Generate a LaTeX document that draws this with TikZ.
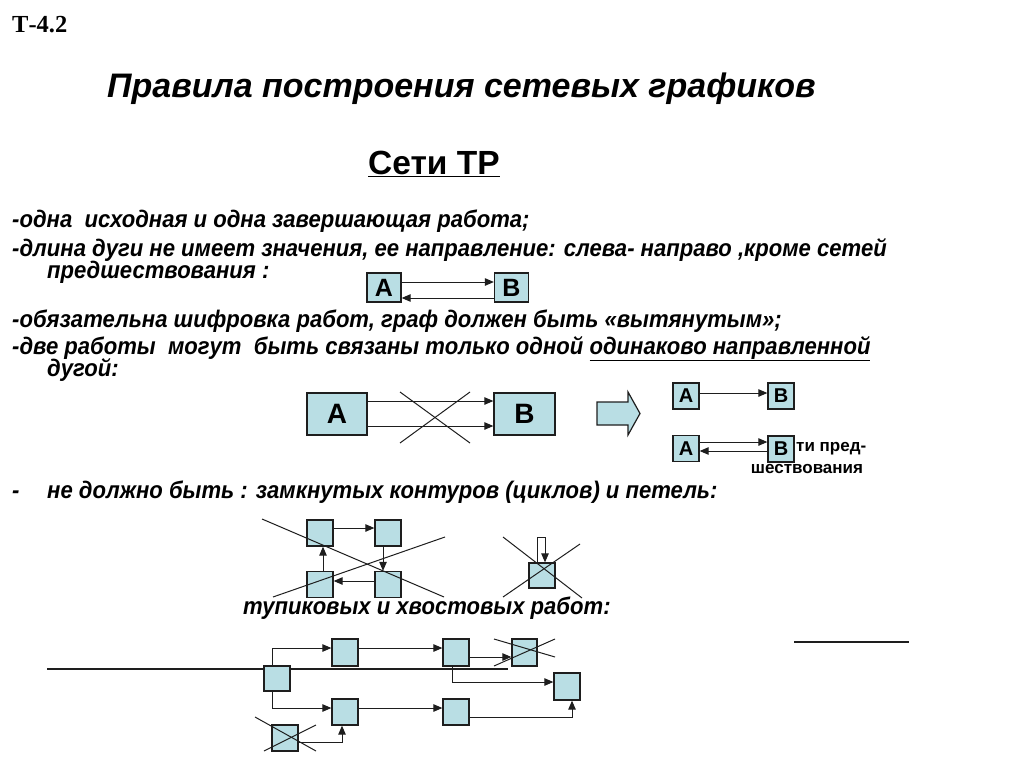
\documentclass[tikz,border=0pt]{standalone}
\usepackage{fontspec}
\setmainfont{Liberation Sans}
\newfontfamily\narrowf[FakeStretch=0.92]{Liberation Sans}
\newfontfamily\timesf{Liberation Serif}
\usetikzlibrary{arrows.meta}
\definecolor{boxfill}{RGB}{185,222,228}
\definecolor{edge}{RGB}{30,30,30}
\tikzset{
  job/.style={draw=edge, line width=1.3pt, fill=boxfill, inner sep=0pt, font=\bfseries\fontsize{25}{25}\selectfont},
  conn/.style={-{Triangle[length=9pt,width=7.5pt]}, line width=1pt, draw=edge},
  plain/.style={line width=1pt, draw=edge},
  thick line/.style={line width=2pt, draw=edge},
  body/.style={anchor=base west, inner sep=0pt, font=\narrowf\bfseries\itshape\fontsize{24}{26}\selectfont},
}
\begin{document}
\begin{tikzpicture}[x=1pt,y=-1pt]
\useasboundingbox (0,0) rectangle (1024,768);
% headings
\node[anchor=base west, inner sep=0pt, font=\timesf\bfseries\fontsize{24.5}{26}\selectfont] (code) at (12,33) {Т-4.2};
\node[anchor=base west, inner sep=0pt, font=\bfseries\itshape\fontsize{34}{38}\selectfont] (title) at (107,97) {Правила построения сетевых графиков};
\node[anchor=base west, inner sep=0pt, font=\bfseries\fontsize{33.5}{36}\selectfont] (sub) at (368,174) {\underline{Сети ТР}};
% body text
\node[body] (t1) at (12,227) {-одна\ \ исходная и одна завершающая работа;};
\node[body] (t2) at (12,256) {-длина дуги не имеет значения, ее направление: слева- направо ,кроме сетей};
\node[body] (t3) at (47,278) {предшествования :};
\node[body] (t4) at (12,327) {-обязательна шифровка работ, граф должен быть «вытянутым»;};
\node[body] (t5) at (12,354) {-две работы\ \ могут\ \ быть связаны только одной \underline{одинаково направленной}};
\node[body] (t6) at (47,376) {дугой:};
\node[body] (t7) at (12,498) {-};
\node[body] (t8) at (47,498) {не должно быть : замкнутых контуров (циклов) и петель:};
\node[body] (t9) at (243,614) {тупиковых и хвостовых работ:};

% diagram 1
\node[job, minimum width=34pt, minimum height=29pt] (a1) at (384,287.5) {A};
\node[job, minimum width=34pt, minimum height=29pt] (b1) at (511.5,287.5) {B};
\draw[conn] (a1.east |- 0,282) -- (b1.west |- 0,282);
\draw[conn] (b1.west |- 0,298) -- (a1.east |- 0,298);

% diagram 2
\node[job, minimum width=60pt, minimum height=42pt, font=\bfseries\fontsize{28}{28}\selectfont] (a2) at (337,414) {A};
\node[job, minimum width=61pt, minimum height=42pt, font=\bfseries\fontsize{28}{28}\selectfont] (b2) at (524.5,414) {B};
\draw[conn] (a2.east |- 0,401) -- (b2.west |- 0,401);
\draw[conn] (a2.east |- 0,426) -- (b2.west |- 0,426);
\draw[plain] (400,392) coordinate (c1) -- (470,443) coordinate (c2);
\draw[plain] (470,392) coordinate (c3) -- (400,443) coordinate (c4);

% block arrow
\draw[draw=edge, line width=1.2pt, fill=boxfill] (597,402) -- (628,402) -- (628,392) -- (640,413.5) -- (628,435) -- (628,425) -- (597,425) -- cycle;

% right pair
\node[job, minimum width=26pt, minimum height=26pt, font=\bfseries\fontsize{20}{20}\selectfont] (a3) at (686,396) {A};
\node[job, minimum width=26pt, minimum height=26pt, font=\bfseries\fontsize{20}{20}\selectfont] (b3) at (781,396) {B};
\draw[conn] (a3.east |- 0,393) -- (b3.west |- 0,393);
\node[job, minimum width=26pt, minimum height=26pt, font=\bfseries\fontsize{20}{20}\selectfont] (a4) at (686,448.5) {A};
\node[job, minimum width=26pt, minimum height=26pt, font=\bfseries\fontsize{20}{20}\selectfont] (b4) at (781,449) {B};
\draw[conn] (a4.east |- 0,442) -- (b4.west |- 0,442);
\draw[conn] (b4.west |- 0,451) -- (a4.east |- 0,451);
\node[anchor=base west, inner sep=0pt, font=\bfseries\fontsize{17}{20}\selectfont] (note1) at (796,451) {ти пред-};
\node[anchor=base, inner sep=0pt, font=\bfseries\fontsize{17}{20}\selectfont] (note2) at (807,473) {шествования};

% cycle
\node[job, minimum width=26pt, minimum height=26pt] (tl) at (320,533) {};
\node[job, minimum width=26pt, minimum height=26pt] (tr) at (388,533) {};
\node[job, minimum width=26pt, minimum height=26pt] (bl) at (320,584.5) {};
\node[job, minimum width=26pt, minimum height=26pt] (br) at (388,584.5) {};
\draw[conn] (tl.east |- 0,528) -- (tr.west |- 0,528);
\draw[conn] (tr.south -| 383,0) -- (br.north -| 383,0);
\draw[conn] (br.west |- 0,581) -- (bl.east |- 0,581);
\draw[conn] (bl.north -| 323,0) -- (tl.south -| 323,0);
\draw[plain] (262,519) coordinate (c5) -- (444,597) coordinate (c6);
\draw[plain] (273,597) coordinate (c7) -- (445,537) coordinate (c8);

% loop
\node[job, minimum width=26pt, minimum height=25pt] (lp) at (542,575.5) {};
\draw[conn] (lp.north -| 537,0) -- (537,537) -- (545,537) -- (lp.north -| 545,0);
\draw[plain] (503,537) coordinate (c9) -- (582,598) coordinate (c10);
\draw[plain] (580,544) coordinate (c11) -- (503,597) coordinate (c12);

% bottom network
\coordinate (l1) at (47,669);
\coordinate (l2) at (508,669);
\draw[thick line] (l1) -- (l2);
\coordinate (r1) at (794,642);
\coordinate (r2) at (909,642);
\draw[thick line] (r1) -- (r2);
\node[job, minimum width=26pt, minimum height=25pt] (s) at (277,678.5) {};
\node[job, minimum width=26pt, minimum height=27pt] (p1) at (345,652.5) {};
\node[job, minimum width=26pt, minimum height=27pt] (p2) at (456,652.5) {};
\node[job, minimum width=26pt, minimum height=26pt] (p3) at (345,712) {};
\node[job, minimum width=26pt, minimum height=26pt] (p4) at (456,712) {};
\node[job, minimum width=26pt, minimum height=26pt] (x1) at (285,738) {};
\node[job, minimum width=25pt, minimum height=27pt] (x2) at (524.5,652.5) {};
\node[job, minimum width=26pt, minimum height=27pt] (p5) at (567,686.5) {};
\draw[conn] (s.north -| 272,0) -- (272,648) -- (p1.west |- 0,648);
\draw[conn] (s.south -| 272,0) -- (272,708) -- (p3.west |- 0,708);
\draw[conn] (p1.east |- 0,648) -- (p2.west |- 0,648);
\draw[conn] (p3.east |- 0,708) -- (p4.west |- 0,708);
\draw[conn] (x1.east |- 0,742) -- (342,742) -- (p3.south -| 342,0);
\draw[conn] (p2.east |- 0,657) -- (x2.west |- 0,657);
\draw[conn] (p2.south -| 452,0) -- (452,682) -- (p5.west |- 0,682);
\draw[conn] (p4.east |- 0,717) -- (572,717) -- (p5.south -| 572,0);
\draw[plain] (255,717) coordinate (c13) -- (316,751) coordinate (c14);
\draw[plain] (316,725) coordinate (c15) -- (264,751) coordinate (c16);
\draw[plain] (494,639) coordinate (c17) -- (555,657) coordinate (c18);
\draw[plain] (555,639) coordinate (c19) -- (494,666) coordinate (c20);
\end{tikzpicture}
\end{document}
